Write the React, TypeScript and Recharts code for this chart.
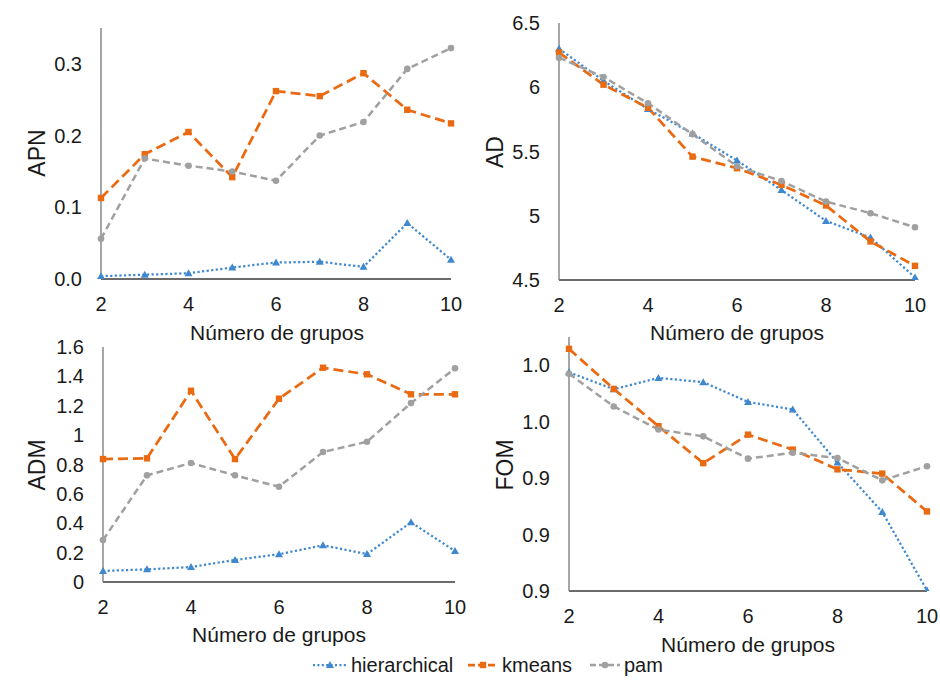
import { LineChart, Line, XAxis, YAxis } from "recharts";

const groups = [2, 3, 4, 5, 6, 7, 8, 9, 10];
const xTicks = [2, 4, 6, 8, 10];

const apnHierarchical = [0.004, 0.006, 0.008, 0.016, 0.023, 0.024, 0.017, 0.078, 0.027];
const apnKmeans = [0.113, 0.174, 0.205, 0.142, 0.262, 0.255, 0.287, 0.236, 0.217];
const apnPam = [0.056, 0.168, 0.158, 0.15, 0.137, 0.2, 0.219, 0.293, 0.322];
const apnTicks = [0, 0.1, 0.2, 0.3];

const adHierarchical = [6.3, 6.05, 5.83, 5.64, 5.43, 5.2, 4.96, 4.83, 4.52];
const adKmeans = [6.27, 6.02, 5.84, 5.46, 5.37, 5.24, 5.08, 4.8, 4.61];
const adPam = [6.23, 6.08, 5.875, 5.635, 5.385, 5.27, 5.11, 5.02, 4.91];
const adTicks = [4.5, 5, 5.5, 6, 6.5];

const admHierarchical = [0.075, 0.086, 0.102, 0.15, 0.189, 0.25, 0.19, 0.406, 0.211];
const admKmeans = [0.837, 0.842, 1.302, 0.837, 1.248, 1.459, 1.414, 1.278, 1.278];
const admPam = [0.286, 0.726, 0.81, 0.726, 0.649, 0.885, 0.955, 1.218, 1.455];
const admTicks = [0, 0.2, 0.4, 0.6, 0.8, 1, 1.2, 1.4, 1.6];

const fomHierarchical = [0.9775, 0.9715, 0.9755, 0.974, 0.967, 0.9643, 0.9455, 0.928, 0.9002];
const fomKmeans = [0.9858, 0.9716, 0.9584, 0.9453, 0.9554, 0.9501, 0.9431, 0.9416, 0.9282];
const fomPam = [0.977, 0.9654, 0.9572, 0.9548, 0.9469, 0.949, 0.9471, 0.9392, 0.9442];
const fomTicks = [0.9, 0.92, 0.94, 0.96, 0.98];

const FONT = '"Liberation Sans", Arial, sans-serif';
const TEXT = "#1a1a1a";

type Method = "hierarchical" | "kmeans" | "pam";

const methods: { key: Method; color: string; width: number; dash: string }[] = [
  { key: "hierarchical", color: "#3f88cf", width: 2.25, dash: "2.2 2.4" },
  { key: "kmeans", color: "#ea6a12", width: 2.75, dash: "10 5" },
  { key: "pam", color: "#a0a0a0", width: 2.5, dash: "7 4" },
];

function marker(kind: Method, cx: number, cy: number, color: string, key?: string) {
  if (kind === "hierarchical") {
    return (
      <path
        key={key}
        d={`M${cx},${cy - 4} L${cx + 4},${cy + 3} L${cx - 4},${cy + 3} Z`}
        fill={color}
      />
    );
  }
  if (kind === "kmeans") {
    return <rect key={key} x={cx - 3.2} y={cy - 3.2} width={6.4} height={6.4} fill={color} />;
  }
  return <circle key={key} cx={cx} cy={cy} r={3.3} fill={color} />;
}

function makeDot(kind: Method, color: string) {
  return (props: any) => {
    const { cx, cy, index } = props;
    if (cx == null || cy == null) return <g key={`e-${index}`} />;
    return marker(kind, cx, cy, color, `${kind}-${index}`);
  };
}

function buildRows(h: number[], k: number[], p: number[]) {
  return groups.map((g, i) => ({ g, hierarchical: h[i], kmeans: k[i], pam: p[i] }));
}

interface PanelProps {
  left: number;
  top: number;
  width: number;
  height: number;
  margin: { top: number; right: number; bottom: number; left: number };
  yWidth: number;
  domain: [number, number];
  ticks: number[];
  format: (v: number) => string;
  rows: ReturnType<typeof buildRows>;
  yTitle: string;
  yTitlePos: [number, number];
  xTitlePos: [number, number];
}

function Panel(p: PanelProps) {
  return (
    <>
      <div style={{ position: "absolute", left: p.left, top: p.top }}>
        <LineChart width={p.width} height={p.height} data={p.rows} margin={p.margin}>
          <XAxis
            dataKey="g"
            type="number"
            domain={[2, 10]}
            ticks={xTicks}
            interval={0}
            height={30}
            tickSize={0}
            tickMargin={18}
            tickLine={false}
            axisLine={{ stroke: "#3a3a3a", strokeWidth: 1.4 }}
            tick={{ fontSize: 20, fill: TEXT, fontFamily: FONT }}
          />
          <YAxis
            type="number"
            domain={p.domain}
            ticks={p.ticks}
            interval={0}
            allowDataOverflow
            width={p.yWidth}
            tickSize={0}
            tickMargin={19}
            tickLine={false}
            tickFormatter={p.format}
            axisLine={{ stroke: "#808080", strokeWidth: 1.4 }}
            tick={{ fontSize: 20, fill: TEXT, fontFamily: FONT }}
          />
          {methods.map((m) => (
            <Line
              key={m.key}
              dataKey={m.key}
              type="linear"
              stroke={m.color}
              strokeWidth={m.width}
              strokeDasharray={m.dash}
              dot={makeDot(m.key, m.color)}
              activeDot={false}
              isAnimationActive={false}
            />
          ))}
        </LineChart>
      </div>
      <div
        style={{
          position: "absolute",
          left: p.xTitlePos[0],
          top: p.xTitlePos[1],
          transform: "translate(-50%, -50%)",
          fontSize: 21,
          fontFamily: FONT,
          color: TEXT,
          whiteSpace: "nowrap",
        }}
      >
        Número de grupos
      </div>
      <div
        style={{
          position: "absolute",
          left: p.yTitlePos[0],
          top: p.yTitlePos[1],
          transform: "translate(-50%, -50%) rotate(-90deg)",
          fontSize: 23,
          fontFamily: FONT,
          color: TEXT,
          whiteSpace: "nowrap",
        }}
      >
        {p.yTitle}
      </div>
    </>
  );
}

const oneDecimal = (v: number) => v.toFixed(1);
const plain = (v: number) => String(v);

// legend item offsets along the bottom row
const legendX: Record<Method, number> = { hierarchical: 313, kmeans: 468, pam: 590 };

export default function App() {
  return (
    <div
      style={{
        position: "absolute",
        left: 0,
        top: 0,
        width: 940,
        height: 684,
        background: "#fff",
        overflow: "hidden",
      }}
    >
      <Panel
        left={0}
        top={0}
        width={470}
        height={320}
        margin={{ top: 28, right: 19, bottom: 11, left: 0 }}
        yWidth={101}
        domain={[0, 0.35]}
        ticks={apnTicks}
        format={oneDecimal}
        rows={buildRows(apnHierarchical, apnKmeans, apnPam)}
        yTitle="APN"
        yTitlePos={[37, 153]}
        xTitlePos={[277, 333]}
      />
      <Panel
        left={470}
        top={0}
        width={470}
        height={320}
        margin={{ top: 23, right: 25, bottom: 10, left: 0 }}
        yWidth={89}
        domain={[4.5, 6.5]}
        ticks={adTicks}
        format={plain}
        rows={buildRows(adHierarchical, adKmeans, adPam)}
        yTitle="AD"
        yTitlePos={[495, 152]}
        xTitlePos={[737, 333]}
      />
      <Panel
        left={0}
        top={320}
        width={470}
        height={364}
        margin={{ top: 27, right: 15, bottom: 72, left: 0 }}
        yWidth={103}
        domain={[0, 1.6]}
        ticks={admTicks}
        format={plain}
        rows={buildRows(admHierarchical, admKmeans, admPam)}
        yTitle="ADM"
        yTitlePos={[37, 465]}
        xTitlePos={[279, 635]}
      />
      <Panel
        left={470}
        top={320}
        width={470}
        height={364}
        margin={{ top: 17, right: 13, bottom: 63, left: 0 }}
        yWidth={99}
        domain={[0.9, 0.99]}
        ticks={fomTicks}
        format={oneDecimal}
        rows={buildRows(fomHierarchical, fomKmeans, fomPam)}
        yTitle="FOM"
        yTitlePos={[505, 465]}
        xTitlePos={[748, 645]}
      />
      {methods.map((m) => (
        <div
          key={m.key}
          style={{
            position: "absolute",
            left: legendX[m.key],
            top: 652,
            height: 26,
            display: "flex",
            alignItems: "center",
            fontFamily: FONT,
            fontSize: 20,
            color: TEXT,
          }}
        >
          <svg width={m.key === "hierarchical" ? 34 : 30} height={12} style={{ marginRight: 4 }}>
            <line
              x1={0}
              y1={6}
              x2={m.key === "hierarchical" ? 34 : 30}
              y2={6}
              stroke={m.color}
              strokeWidth={m.width}
              strokeDasharray={m.key === "hierarchical" ? "2 2.4" : m.key === "kmeans" ? "7 3" : "6 3"}
            />
            {marker(m.key, m.key === "hierarchical" ? 17 : 15, 6, m.color)}
          </svg>
          {m.key}
        </div>
      ))}
    </div>
  );
}
